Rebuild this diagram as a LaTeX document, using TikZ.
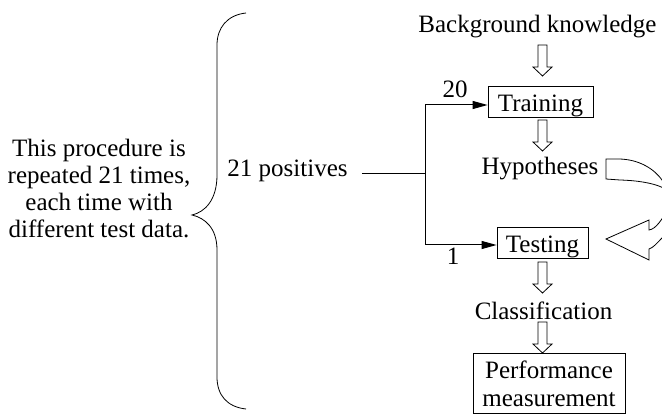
\documentclass[tikz,border=0pt]{standalone}
\usepackage{fontspec}
\setmainfont{Liberation Serif}
\usetikzlibrary{arrows.meta}
\tikzset{
  box/.style={thick, shape=rectangle, draw=black, inner sep=0pt, text height=20pt, text depth=0pt},
  lbl/.style={inner sep=0pt, anchor=base},
  flow/.style={line width=1pt, -{Triangle[length=15pt,width=8pt]}},
  hollowdown/.pic={\draw[thick] (-4.5,0) -- (4.5,0) -- (4.5,22) -- (9.5,22) -- (0,31) -- (-9.5,22) -- (-4.5,22) -- cycle;}
}
\begin{document}
\begin{tikzpicture}[x=1pt, y=-1pt, font=\fontsize{25}{27}\selectfont]
\useasboundingbox (0,0) rectangle (662,414);
\node[lbl] (bk) at (537.5,33) {Background knowledge};
\node[box, minimum width=105pt, minimum height=31pt] (train) at (540.5,101.5) {Training};
\node[lbl] (hyp) at (540,175) {Hypotheses};
\node[box, minimum width=91pt, minimum height=31pt] (test) at (542.5,242.5) {Testing};
\node[lbl] (cls) at (543.5,320) {Classification};
\node[thick, shape=rectangle, draw=black, inner sep=0pt, minimum width=152pt, minimum height=60pt, align=center, font=\fontsize{25}{28}\selectfont] (perf) at (549,383.5) {Performance\\measurement};
\node[lbl, inner xsep=14pt] (pos) at (287.5,177) {21 positives};
\node[lbl] (n20) at (455,98) {20};
\node[lbl] (n1) at (453,265) {1};
\node[align=center, inner sep=0pt] (note) at (99,189) {This procedure is\\repeated 21 times,\\each time with\\different test data.};
\coordinate (br) at (425,174);
\draw[line width=1pt] (br -| pos.east) -- (br);
\draw[flow] (br) |- ([yshift=-3.5pt]train.west);
\draw[flow] (br) |- ([yshift=-2.5pt]test.west);
\pic at (542.5,45) {hollowdown};
\pic at (542.5,120) {hollowdown};
\pic at (542.5,262) {hollowdown};
\pic at (542.5,322) {hollowdown};
\begin{scope}
\clip (0,0) rectangle (662,414);
\draw[thick] (606,159) -- (618,159) .. controls (640,159) and (655,170) .. (662,180)
  .. controls (680,200) and (680,225) .. (662,238) .. controls (657,243) and (653,248) .. (649,249)
  -- (649,260) -- (606,239) -- (649,220) -- (649,230)
  .. controls (656,229) and (662,220) .. (670,205) .. controls (680,190) and (655,181) .. (620,180)
  -- (606,179) -- cycle;
\end{scope}
\draw[thick] (246,13) .. controls (227,15) and (217,28) .. (217,45) -- (217,175)
  .. controls (217,200) and (205,212) .. (192,215) .. controls (205,218) and (217,228) .. (217,250)
  -- (217,377) .. controls (217,395) and (227,407) .. (246,409);
\end{tikzpicture}
\end{document}
